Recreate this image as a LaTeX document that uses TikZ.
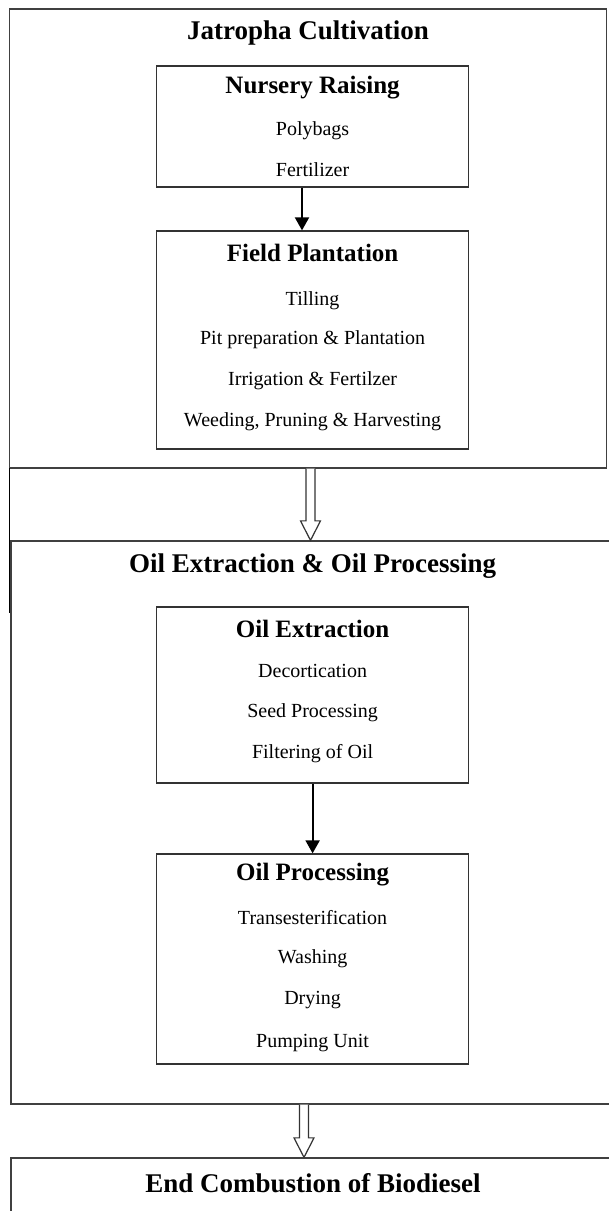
\documentclass[tikz,border=0pt]{standalone}
\usepackage{fontspec}
\setmainfont{Liberation Serif}
\usepackage{tikz}
\usetikzlibrary{arrows.meta}

\begin{document}
\begin{tikzpicture}[x=1pt,y=-1pt,
  stage/.style={draw=black!75,line width=1.3pt,minimum width=597pt},
  step box/.style={draw=black!80,line width=1.3pt,minimum width=312pt},
  stagetitle/.style={font=\fontsize{27}{30}\selectfont\bfseries},
  boxtitle/.style={font=\fontsize{25}{28}\selectfont\bfseries},
  item/.style={font=\fontsize{20}{22}\selectfont},
  flow/.style={line width=2pt,-{Triangle[length=13pt,width=14pt]}},
  hollow/.style={draw=black!80,line width=1.2pt,fill=white,line join=miter}]
\useasboundingbox (0,0) rectangle (609,1211);
\clip (0,0) rectangle (609,1211);
\def\hollowarrow#1#2{%
  \draw[hollow] ([xshift=-4.5pt]#1) -- ([xshift=-4.5pt,yshift=19.5pt]#2)
    -- ([xshift=-10pt,yshift=19.5pt]#2) -- (#2)
    -- ([xshift=10pt,yshift=19.5pt]#2) -- ([xshift=4.5pt,yshift=19.5pt]#2)
    -- ([xshift=4.5pt]#1);}
% outer stages
\node[stage,minimum height=459pt] (J) at (308,238.5) {};
\node[stage,minimum width=604pt,minimum height=563pt] (O) at (313,822.5) {};
\node[stage,minimum width=604pt,minimum height=120pt] (E) at (313,1218) {};
% inner boxes
\node[step box,minimum height=121pt] (N) at (312.6,126.5) {};
\node[step box,minimum height=218pt] (F) at (312.6,340) {};
\node[step box,minimum height=176pt] (X) at (312.6,695) {};
\node[step box,minimum height=210pt] (P) at (312.6,959) {};
% titles
\node[stagetitle] (Jt) at (308,33) {Jatropha Cultivation};
\node[stagetitle] (Ot) at (312.6,566) {Oil Extraction \& Oil Processing};
\node[stagetitle] (Et) at (313,1183) {End Combustion of Biodiesel};
\node[boxtitle] (Nt) at (312.6,88) {Nursery Raising};
\node[boxtitle] (Ft) at (312.6,253) {Field Plantation};
\node[boxtitle] (Xt) at (312.6,629) {Oil Extraction};
\node[boxtitle] (Pt) at (312.6,875) {Oil Processing};
% items
\node[item] (N1) at (312.6,131) {Polybags};
\node[item] (N2) at (312.6,170) {Fertilizer};
\node[item] (F1) at (312.6,301) {Tilling};
\node[item] (F2) at (312.6,340) {Pit preparation \& Plantation};
\node[item] (F3) at (312.6,381) {Irrigation \& Fertilzer};
\node[item] (F4) at (312.6,422) {Weeding, Pruning \& Harvesting};
\node[item] (X1) at (312.6,671) {Decortication};
\node[item] (X2) at (312.6,713) {Seed Processing};
\node[item] (X3) at (312.6,754) {Filtering of Oil};
\node[item] (P1) at (312.6,918) {Transesterification};
\node[item] (P2) at (312.6,959) {Washing};
\node[item] (P3) at (312.6,1000) {Drying};
\node[item] (P4) at (312.6,1043) {Pumping Unit};
% arrows
\draw[flow] ([xshift=-10.6pt]N.south) -- ([xshift=-10.6pt]F.north);
\draw[flow] (X.south) -- (P.north);
\coordinate (d1t) at ([xshift=2.5pt]J.south);
\coordinate (d1b) at (d1t |- O.north);
\hollowarrow{d1t}{d1b}
\coordinate (d2t) at ([xshift=-9pt]O.south);
\coordinate (d2b) at (d2t |- E.north);
\hollowarrow{d2t}{d2b}
\draw[line width=1.3pt] (9.3,468) -- (9.3,613);
\end{tikzpicture}
\end{document}
